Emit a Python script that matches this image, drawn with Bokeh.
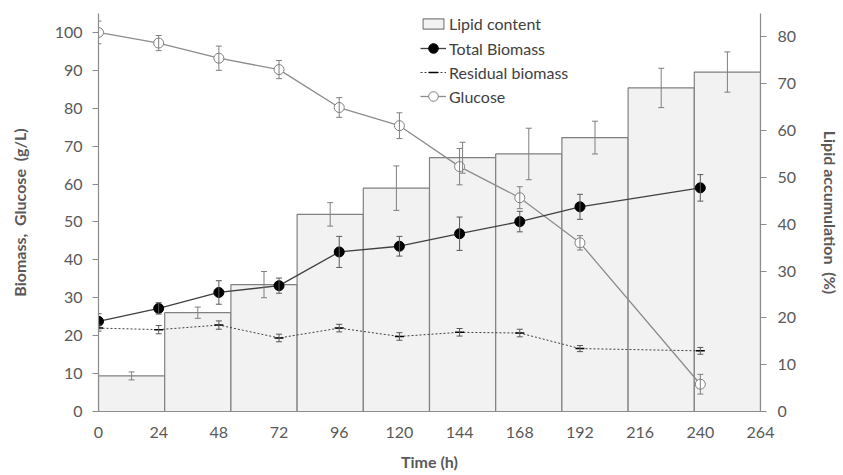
from bokeh.plotting import figure
from bokeh.models import (Range1d, LinearAxis, FixedTicker, Whisker, TeeHead,
                          ColumnDataSource, Legend, LegendItem)
from bokeh.embed import file_html
from bokeh.resources import INLINE

# ---------------- data ----------------
time_h = [0, 24, 48, 72, 96, 120, 144, 168, 192, 240]
total_biomass = [23.8, 27.2, 31.4, 33.2, 42.1, 43.6, 46.9, 50.1, 54.0, 59.0]
total_biomass_err = [2.0, 1.5, 3.1, 2.0, 4.1, 2.6, 4.4, 2.7, 3.3, 3.5]
residual_biomass = [22.0, 21.6, 22.8, 19.4, 22.0, 19.8, 20.9, 20.7, 16.6, 16.0]
residual_err = [0.8, 1.1, 1.1, 1.0, 1.0, 1.0, 1.0, 1.0, 0.8, 0.9]
glucose = [100.0, 97.2, 93.2, 90.2, 80.2, 75.4, 64.6, 56.4, 44.5, 7.2]
glucose_err = [3.0, 2.0, 3.2, 2.4, 2.6, 3.4, 4.8, 2.9, 1.9, 2.6]
lipid_content = [7.6, 21.1, 27.1, 42.1, 47.7, 54.2, 55.0, 58.5, 69.1, 72.5]
lipid_err = [0.85, 1.2, 2.8, 2.5, 4.75, 3.3, 5.5, 3.5, 4.2, 4.3]

x_ticks = [0, 24, 48, 72, 96, 120, 144, 168, 192, 216, 240, 264]
left_ticks = [0, 10, 20, 30, 40, 50, 60, 70, 80, 90, 100]
right_ticks = [0, 10, 20, 30, 40, 50, 60, 70, 80]
x_max = 264
left_max = 105
right_max = 85

# ---------------- sources ----------------
n = len(lipid_content)
bw = x_max / n
bars = ColumnDataSource(dict(
    left=[i * bw for i in range(n)],
    right=[(i + 1) * bw for i in range(n)],
    center=[(i + 0.5) * bw for i in range(n)],
    top=lipid_content,
    upper=[v + e for v, e in zip(lipid_content, lipid_err)],
    lower=[v - e for v, e in zip(lipid_content, lipid_err)],
))


def src(vals, errs):
    return ColumnDataSource(dict(
        x=time_h, y=vals,
        upper=[v + e for v, e in zip(vals, errs)],
        lower=[v - e for v, e in zip(vals, errs)],
    ))


bio = src(total_biomass, total_biomass_err)
res = src(residual_biomass, residual_err)
glu = src(glucose, glucose_err)

FONT = "Lato"
GRAY = "#595959"

p = figure(width=843, height=475, output_backend="svg", toolbar_location=None,
           x_range=Range1d(0, x_max), y_range=Range1d(0, left_max),
           min_border_left=98, min_border_right=77, min_border_top=13,
           min_border_bottom=64)
p.extra_y_ranges = {"right": Range1d(0, right_max)}
p.outline_line_color = None
p.xgrid.visible = False
p.ygrid.visible = False
p.background_fill_color = "white"


def whisk(source, color, yr="default"):
    w = Whisker(base="center" if source is bars else "x", upper="upper", lower="lower",
                source=source, dimension="height", line_color=color, line_width=1,
                upper_head=TeeHead(size=6, line_color=color, line_width=1),
                lower_head=TeeHead(size=6, line_color=color, line_width=1),
                y_range_name=yr, level="glyph")
    p.add_layout(w)
    return w


# bars
bar_r = p.quad(left="left", right="right", bottom=0, top="top", source=bars,
               y_range_name="right", fill_color="#f2f2f2", line_color="#808080",
               line_width=1.2)
whisk(bars, "#7f7f7f", "right")

# residual biomass
res_l = p.line("x", "y", source=res, line_color="#404040", line_width=1,
               line_dash="2 2")
whisk(res, "#595959")
res_m = p.scatter("x", "y", source=res, marker="dash", size=9,
                  line_color="#000000", line_width=1.5)

# glucose
glu_l = p.line("x", "y", source=glu, line_color="#8c8c8c", line_width=1.3)
whisk(glu, "#7f7f7f")
glu_m = p.scatter("x", "y", source=glu, marker="circle", size=10,
                  fill_color="white", line_color="#7f7f7f", line_width=1)

# total biomass
bio_l = p.line("x", "y", source=bio, line_color="#404040", line_width=1.3)
whisk(bio, "#595959")
bio_m = p.scatter("x", "y", source=bio, marker="circle", size=10,
                  fill_color="black", line_color="black")

# axes
p.xaxis.ticker = FixedTicker(ticks=x_ticks)
p.xaxis.axis_label = "Time (h)"
p.xaxis.major_tick_out = 0
p.xaxis.major_tick_in = 0
p.xaxis.minor_tick_out = 0
p.xaxis.minor_tick_in = 0
p.xaxis.major_label_standoff = 15
p.xaxis.axis_label_standoff = 11

p.yaxis.ticker = FixedTicker(ticks=left_ticks)
p.yaxis.axis_label = "Biomass,\u00a0 Glucose\u00a0 (g/L)"
p.yaxis.major_tick_out = 6
p.yaxis.major_tick_in = 0
p.yaxis.minor_tick_out = 0
p.yaxis.minor_tick_in = 0
p.yaxis.major_label_standoff = 10
p.yaxis.axis_label_standoff = 23

ry = LinearAxis(y_range_name="right", ticker=FixedTicker(ticks=right_ticks),
                axis_label="Lipid accumulation\u00a0 (%)")
ry.major_tick_out = 6
ry.major_tick_in = 0
ry.minor_tick_out = 0
ry.minor_tick_in = 0
ry.major_label_standoff = 11
ry.axis_label_standoff = 22
p.add_layout(ry, "right")

for ax in [p.xaxis[0], p.yaxis[0], ry]:
    ax.axis_line_color = "#8c8c8c"
    ax.axis_line_width = 1.2
    ax.major_tick_line_color = "#8c8c8c"
    ax.major_label_text_font = FONT
    ax.major_label_text_font_size = "16px"
    ax.major_label_text_color = GRAY
    ax.axis_label_text_font = FONT
    ax.axis_label_text_font_size = "16px"
    ax.axis_label_text_font_style = "bold"
    ax.axis_label_text_color = GRAY


def style_legend(lg, gh, lh, sp):
    lg.background_fill_alpha = 0
    lg.border_line_color = None
    lg.padding = 0
    lg.margin = 0
    lg.spacing = sp
    lg.glyph_width = 26
    lg.glyph_height = gh
    lg.label_height = lh
    lg.label_standoff = 3
    lg.label_text_font = FONT
    lg.label_text_font_size = "16px"
    lg.label_text_color = "#404040"


legend_bar = Legend(items=[
    LegendItem(label="Lipid content", renderers=[bar_r]),
], location=(322, 378), orientation="vertical")
style_legend(legend_bar, 13, 20, 0)
p.add_layout(legend_bar, "center")

legend_lines = Legend(items=[
    LegendItem(label="Total Biomass", renderers=[bio_l, bio_m]),
    LegendItem(label="Residual biomass", renderers=[res_l, res_m]),
    LegendItem(label="Glucose", renderers=[glu_l, glu_m]),
], location=(322, 303), orientation="vertical")
style_legend(legend_lines, 24, 24, 0)
p.add_layout(legend_lines, "center")

open("out.html", "w").write(file_html(p, INLINE))
